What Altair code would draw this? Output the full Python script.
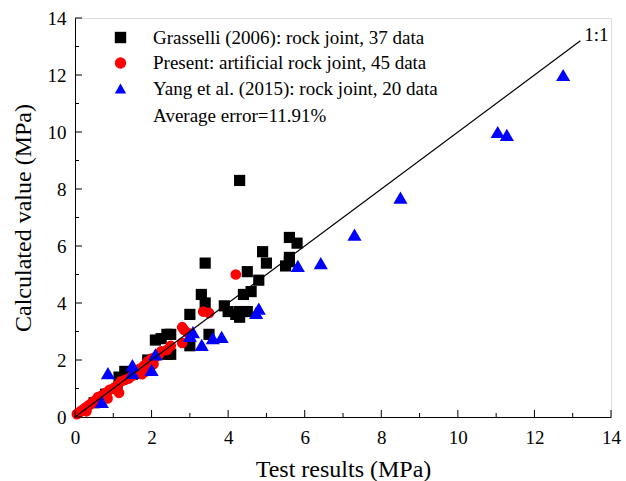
import altair as alt
import pandas as pd

# ---- data ----
series_names = ["Grasselli (2006): rock joint, 37 data",
                "Present: artificial rock joint, 45 data",
                "Yang et al. (2015): rock joint, 20 data"]
series_colors = ["#000000", "#ff0000", "#0000ff"]
series_shapes = ["square", "circle", "triangle-up"]
series_sizes = [125, 115, 200]

grasselli_x = [4.3, 5.6, 5.8, 4.9, 5.0, 5.6, 5.6, 5.5, 4.5, 4.8, 4.6, 4.4, 3.9, 4.0, 4.3, 4.5,
               4.3, 3.4, 3.3, 3.4, 3.0, 3.5, 2.5, 2.1, 2.25, 2.4, 3.0, 2.4, 1.3, 1.15, 2.5,
               1.9, 1.5, 1.1, 0.8, 0.5, 4.2]
grasselli_y = [8.3, 6.3, 6.1, 5.8, 5.4, 5.6, 5.45, 5.3, 5.1, 4.8, 4.4, 4.3, 3.9, 3.7, 3.7, 3.7,
               3.5, 5.4, 4.3, 4.0, 3.6, 2.9, 2.9, 2.7, 2.75, 2.9, 2.5, 2.2, 1.6, 1.4, 2.2,
               2.0, 1.5, 1.0, 0.8, 0.5, 3.6]

present_x = [0.05, 0.1, 0.15, 0.2, 0.25, 0.3, 0.3, 0.35, 0.4, 0.45, 0.5, 0.55, 0.6, 0.65, 0.7,
             0.8, 0.85, 0.9, 1.0, 1.1, 1.15, 1.2, 1.3, 1.4, 1.5, 1.6, 1.7, 1.75, 1.8, 1.85,
             1.9, 2.0, 2.05, 2.1, 2.2, 2.25, 2.4, 2.5, 2.8, 2.85, 2.8, 2.95, 3.35, 3.5, 4.2]
present_y = [0.1, 0.15, 0.2, 0.25, 0.3, 0.35, 0.2, 0.4, 0.45, 0.5, 0.55, 0.6, 0.7, 0.65, 0.75,
             0.85, 0.65, 0.95, 1.0, 1.1, 0.85, 1.25, 1.3, 1.35, 1.45, 1.55, 1.7, 1.5, 1.8, 1.6,
             1.95, 2.05, 1.85, 2.1, 2.2, 2.3, 2.35, 2.5, 2.6, 3.05, 3.15, 2.95, 3.7, 3.65, 5.0]

yang_x = [12.75, 11.04, 11.28, 8.5, 7.3, 6.42, 5.82, 4.8, 4.73, 3.83, 3.6, 3.31, 3.08, 3.0,
          2.1, 2.0, 1.5, 1.5, 0.86, 0.7]
yang_y = [12.0, 10.0, 9.9, 7.7, 6.4, 5.4, 5.3, 3.8, 3.65, 2.81, 2.77, 2.53, 2.98, 2.85,
          2.2, 1.65, 1.82, 1.55, 1.54, 0.53]

line_x = [0.0, 13.2]
line_y = [0.0, 13.2]

major_ticks = [0, 2, 4, 6, 8, 10, 12, 14]
minor_ticks = [1, 3, 5, 7, 9, 11, 13]

note_text = ["Average error=11.91%", "1:1"]
note_x = [2.04, 13.3]
note_y = [10.55, 13.4]

FONT = "Liberation Serif"
W, H = 536, 399

xs_scale = alt.Scale(domain=[0, 14], nice=False, zero=False)
ys_scale = alt.Scale(domain=[0, 14], nice=False, zero=False)

x_axis = alt.Axis(title="Test results (MPa)", values=major_ticks, ticks=False,
                  grid=False, domainColor="black", labelFont=FONT,
                  labelFontSize=19, labelColor="black", labelPadding=11,
                  labelFlush=False,
                  titleFont=FONT, titleFontSize=24, titleFontWeight="normal",
                  titleColor="black", titlePadding=10)
y_axis = alt.Axis(title="Calculated value (MPa)", values=major_ticks, ticks=False,
                  grid=False, domainColor="black", labelFont=FONT,
                  labelFontSize=19, labelColor="black", labelPadding=9,
                  labelFlush=False,
                  titleFont=FONT, titleFontSize=24, titleFontWeight="normal",
                  titleColor="black", titlePadding=12)

color_enc = alt.Color("series:N", scale=alt.Scale(domain=series_names, range=series_colors),
                      legend=alt.Legend(title=None, orient="none", legendX=36, legendY=10,
                                        labelFont=FONT, labelFontSize=19, labelColor="black",
                                        labelLimit=0,
                                        symbolSize=130, symbolStrokeWidth=0, labelOffset=23,
                                        rowPadding=5.5, padding=0))
shape_enc = alt.Shape("series:N", scale=alt.Scale(domain=series_names, range=series_shapes),
                      legend=None)

X = alt.X("x:Q", scale=xs_scale, axis=x_axis)
Y = alt.Y("y:Q", scale=ys_scale, axis=y_axis)

layers = []
for i, (name, xs, ys) in enumerate(zip(series_names, [grasselli_x, present_x, yang_x],
                                       [grasselli_y, present_y, yang_y])):
    df = pd.DataFrame({"x": xs, "y": ys, "series": name})
    layers.append(alt.Chart(df).mark_point(filled=True, opacity=1,
                                           size=series_sizes[i]).encode(
        x=X, y=Y, color=color_enc, shape=shape_enc))

line_df = pd.DataFrame({"x": line_x, "y": line_y})
diag = alt.Chart(line_df).mark_line(color="black", strokeWidth=1.2).encode(x=X, y=Y)

notes = alt.Chart(pd.DataFrame({"t": note_text, "x": note_x, "y": note_y})).mark_text(
    align="left", baseline="middle", font=FONT, fontSize=19, color="black").encode(
    x=X, y=Y, text="t:N")

maj = pd.DataFrame({"x": major_ticks, "y": major_ticks})
mnr = pd.DataFrame({"x": minor_ticks, "y": minor_ticks})
xt_major = alt.Chart(maj).mark_rule(color="black").encode(
    x=X, y=alt.value(H), y2=alt.value(H - 7))
xt_minor = alt.Chart(mnr).mark_rule(color="black").encode(
    x=X, y=alt.value(H), y2=alt.value(H - 4))
yt_major = alt.Chart(maj).mark_rule(color="black").encode(
    y=Y, x=alt.value(0), x2=alt.value(7))
yt_minor = alt.Chart(mnr).mark_rule(color="black").encode(
    y=Y, x=alt.value(0), x2=alt.value(4))

chart = alt.layer(*layers, diag, notes, xt_major, xt_minor, yt_major, yt_minor).properties(
    width=W, height=H,
    autosize=alt.AutoSizeParams(type="none"),
    padding={"left": 75, "top": 18, "right": 15, "bottom": 64},
).configure_view(stroke=None).configure(background="white")

chart.save("out.html", embed_options={"renderer": "svg", "actions": False})
